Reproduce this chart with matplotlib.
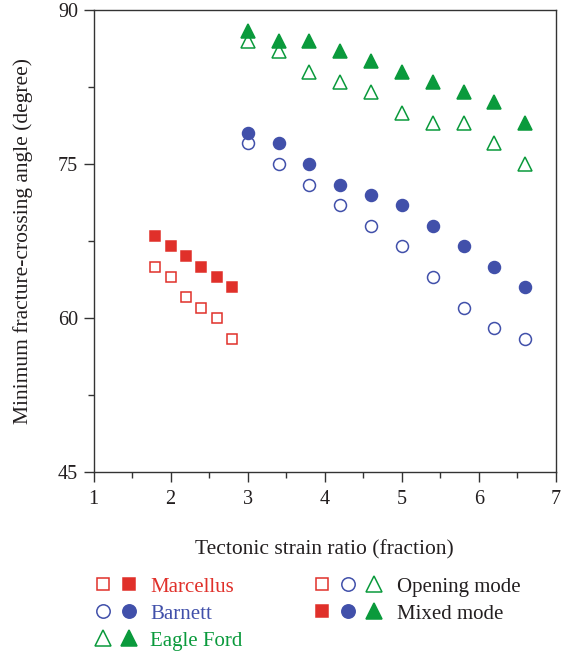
import matplotlib
matplotlib.use("Agg")
import matplotlib.pyplot as plt
from matplotlib.lines import Line2D
from matplotlib.legend_handler import HandlerTuple
from matplotlib.ticker import MultipleLocator

plt.rcParams['font.family'] = ['Liberation Serif', 'DejaVu Serif']

# Data
marc_x = [1.8, 2.0, 2.2, 2.4, 2.6, 2.8]
marc_open = [65, 64, 62, 61, 60, 58]
marc_mixed = [68, 67, 66, 65, 64, 63]

barn_x = [3.0, 3.4, 3.8, 4.2, 4.6, 5.0, 5.4, 5.8, 6.2, 6.6]
barn_open = [77, 75, 73, 71, 69, 67, 64, 61, 59, 58]
barn_mixed = [78, 77, 75, 73, 72, 71, 69, 67, 65, 63]

eagle_x = [3.0, 3.4, 3.8, 4.2, 4.6, 5.0, 5.4, 5.8, 6.2, 6.6]
eagle_open = [87, 86, 84, 83, 82, 80, 79, 79, 77, 75]
eagle_mixed = [88, 87, 87, 86, 85, 84, 83, 82, 81, 79]

x_ticks = [1, 2, 3, 4, 5, 6, 7]
y_ticks = [45, 60, 75, 90]

RED = '#e0302a'
BLUE = '#4150aa'
GREEN = '#0a9a3c'
TXT = '#231f20'

W, H = 561, 654
fig = plt.figure(figsize=(W / 100, H / 100), dpi=100)
ax = fig.add_axes([93.5 / W, 1 - 472 / H, (556 - 93.5) / W, (472 - 10) / H])

ms_sq, ms_c, ms_t = 7.4, 8.6, 10.0
mew = 1.1

def series(x, yo, ym, marker, color, ms):
    ax.plot(x, yo, linestyle='none', marker=marker, ms=ms, mfc='white', mec=color, mew=mew, zorder=3)
    ax.plot(x, ym, linestyle='none', marker=marker, ms=ms, mfc=color, mec=color, mew=mew, zorder=4)

series(marc_x, marc_open, marc_mixed, 's', RED, ms_sq)
series(barn_x, barn_open, barn_mixed, 'o', BLUE, ms_c)
series(eagle_x, eagle_open, eagle_mixed, '^', GREEN, ms_t)

ax.set_xlim(1, 7)
ax.set_ylim(45, 90)
ax.set_xticks(x_ticks)
ax.set_yticks(y_ticks)
ax.xaxis.set_minor_locator(MultipleLocator(0.5))
ax.yaxis.set_minor_locator(MultipleLocator(7.5))
ax.tick_params(which='major', direction='out', length=7, width=1.0, colors='#333333',
               labelsize=14.5, labelcolor=TXT)
ax.tick_params(axis='x', which='major', pad=6)
ax.tick_params(axis='y', which='major', pad=4)
ax.tick_params(which='minor', direction='out', length=4, width=1.0, colors='#333333')
for s in ax.spines.values():
    s.set_color('#333333')
    s.set_linewidth(1.0)

ax.set_xlabel('Tectonic strain ratio (fraction)', fontsize=15.5, color=TXT, labelpad=22)
ax.set_ylabel('Minimum fracture-crossing angle (degree)', fontsize=15.5, color=TXT, labelpad=18)

lms = 1.12
def h(marker, color, ms, filled):
    return Line2D([], [], linestyle='none', marker=marker, ms=ms * lms,
                  mfc=color if filled else 'white', mec=color, mew=mew)

fs = 15
fpx = fs * 100 / 72
handles1 = [(h('s', RED, ms_sq, False), h('s', RED, ms_sq, True)),
            (h('o', BLUE, ms_c, False), h('o', BLUE, ms_c, True)),
            (h('^', GREEN, ms_t, False), h('^', GREEN, ms_t, True))]
labels1 = ['Marcellus', 'Barnett', 'Eagle Ford']
leg1 = fig.legend(handles1, labels1, handler_map={tuple: HandlerTuple(ndivide=None, pad=0)},
                  loc='upper left', bbox_to_anchor=(90 / W, 1 - 577 / H), frameon=False,
                  borderpad=0, borderaxespad=0, handlelength=52 / fpx, handletextpad=8 / fpx,
                  labelspacing=0.36, fontsize=fs, numpoints=1)
for t, c in zip(leg1.get_texts(), [RED, BLUE, GREEN]):
    t.set_color(c)

handles2 = [(h('s', RED, ms_sq, False), h('o', BLUE, ms_c, False), h('^', GREEN, ms_t, False)),
            (h('s', RED, ms_sq, True), h('o', BLUE, ms_c, True), h('^', GREEN, ms_t, True))]
labels2 = ['Opening mode', 'Mixed mode']
leg2 = fig.legend(handles2, labels2, handler_map={tuple: HandlerTuple(ndivide=None, pad=0)},
                  loc='upper left', bbox_to_anchor=(309 / W, 1 - 577 / H), frameon=False,
                  borderpad=0, borderaxespad=0, handlelength=78 / fpx, handletextpad=10 / fpx,
                  labelspacing=0.36, fontsize=fs, numpoints=1)
for t in leg2.get_texts():
    t.set_color(TXT)

fig.savefig('out.png', dpi=100)
